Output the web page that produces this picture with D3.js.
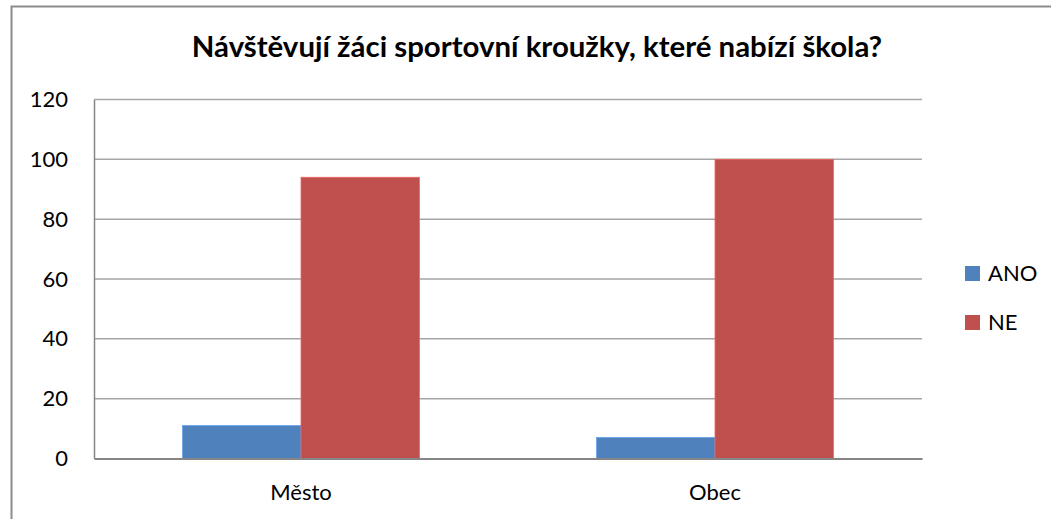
<!DOCTYPE html>
<html>
<head>
<meta charset="utf-8">
<script src="https://cdn.jsdelivr.net/npm/d3@7"></script>
<style>
	body{margin:0;background:#fff;}
	svg{display:block;}
	text{font-family:Lato, "Open Sans", sans-serif;fill:#000;}
</style>
</head>
<body>
<svg id="chart"></svg>
<script>
//data
var categories=["Město","Obec"];
var seriesNames=["ANO","NE"];
var anoValues=[11,7];
var neValues=[94,100];
var yTicks=[0,20,40,60,80,100,120];
var titleText="Návštěvují žáci sportovní kroužky, které nabízí škola?";

///some constants
var colors={"ANO":"#4F81BD","NE":"#C0504D"};
var width=1051, height=519;
var plot={left:94,right:922,top:99.5,bottom:458.5};

var svg=d3.select("#chart")
	.attr("width",width)
	.attr("height",height);

//outer frame of chart area (bottom/right run off the picture)
svg.append("rect")
	.attr("x",11.5)
	.attr("y",6.5)
	.attr("width",width+10)
	.attr("height",height+10)
	.style("fill","none")
	.style("stroke","#8c8c8c")
	.style("stroke-width",2);

//title
svg.append("text")
	.attr("x",537)
	.attr("y",57)
	.attr("text-anchor","middle")
	.style("font-size","29.4px")
	.style("font-weight","bold")
	.text(titleText);

var y=d3.scaleLinear()
	.domain([0,120])
	.range([plot.bottom,plot.top]);

var x0=d3.scaleBand()
	.domain(categories)
	.range([plot.left,plot.right])
	.paddingInner(0.428)
	.paddingOuter(0.214);

var x1=d3.scaleBand()
	.domain(seriesNames)
	.range([0,x0.bandwidth()]);

//gridlines
svg.append("g")
	.selectAll("line")
	.data(yTicks.filter(function(d){return d>0;}))
	.enter().append("line")
	.attr("x1",plot.left)
	.attr("x2",plot.right)
	.attr("y1",function(d){return y(d);})
	.attr("y2",function(d){return y(d);})
	.style("stroke","#a6a6a6")
	.style("stroke-width",1.5);

//y axis, only labels + line
var yAxis=d3.axisLeft(y)
	.tickValues(yTicks)
	.tickSize(0)
	.tickPadding(26);
var gy=svg.append("g")
	.attr("transform","translate("+plot.left+",0)")
	.call(yAxis);
gy.select(".domain")
	.attr("stroke","#868686")
	.attr("stroke-width",1.5);
gy.selectAll("text")
	.style("font-size","22px")
	.attr("fill","#000");

//bars
var rows=categories.map(function(c,i){
	return {cat:c,values:[{key:"ANO",v:anoValues[i]},{key:"NE",v:neValues[i]}]};
});
var groups=svg.append("g")
	.selectAll("g")
	.data(rows)
	.enter().append("g")
	.attr("transform",function(d){return "translate("+x0(d.cat)+",0)";});
groups.selectAll("rect")
	.data(function(d){return d.values;})
	.enter().append("rect")
	.attr("x",function(d){return x1(d.key);})
	.attr("width",x1.bandwidth())
	.attr("y",function(d){return y(d.v);})
	.attr("height",function(d){return y(0)-y(d.v);})
	.style("fill",function(d){return colors[d.key];})
	.style("stroke",function(d){return d3.color(colors[d.key]).brighter(0.6);})
	.style("stroke-width",0.8);

//x axis
var xAxis=d3.axisBottom(x0)
	.tickSize(0)
	.tickPadding(26);
var gx=svg.append("g")
	.attr("transform","translate(0,"+plot.bottom+")")
	.call(xAxis);
gx.select(".domain")
	.attr("stroke","#868686")
	.attr("stroke-width",2);
gx.selectAll("text")
	.style("font-size","22px")
	.attr("fill","#000");

//legend
var legend=svg.append("g")
	.selectAll("g")
	.data(seriesNames)
	.enter().append("g")
	.attr("transform",function(d,i){return "translate(965,"+(266+i*49)+")";});
legend.append("rect")
	.attr("width",15)
	.attr("height",15)
	.style("fill",function(d){return colors[d];});
legend.append("text")
	.attr("x",23)
	.attr("y",14.5)
	.style("font-size","22px")
	.text(function(d){return d;});
</script>
</body>
</html>
